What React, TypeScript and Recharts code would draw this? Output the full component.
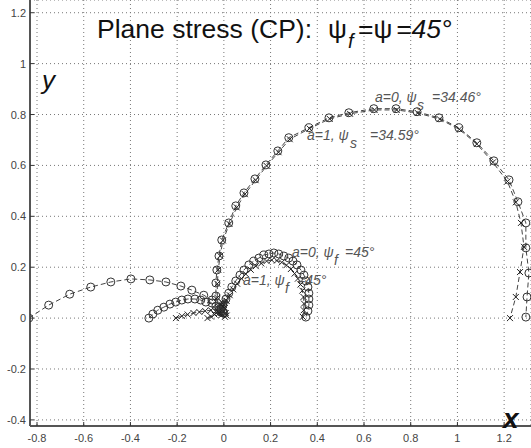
import { ScatterChart, Scatter, XAxis, YAxis, CartesianGrid } from "recharts"

const xTicks = [-0.8, -0.6, -0.4, -0.2, 0, 0.2, 0.4, 0.6, 0.8, 1, 1.2]
const yTicks = [-0.4, -0.2, 0, 0.2, 0.4, 0.6, 0.8, 1, 1.2]

// big arc, a=0 (circles), psi_s = 34.46
const bigArcA0: [number, number][] = [
  [-0.021, 0.031], [-0.034, 0.087], [-0.034, 0.138], [-0.03, 0.189], [-0.021, 0.244],
  [-0.009, 0.307], [0.021, 0.374], [0.051, 0.441], [0.086, 0.492], [0.133, 0.547],
  [0.18, 0.602], [0.231, 0.657], [0.278, 0.709], [0.364, 0.748], [0.45, 0.787],
  [0.535, 0.807], [0.642, 0.823], [0.737, 0.823], [0.827, 0.811], [0.921, 0.787],
  [1.006, 0.748], [1.083, 0.689], [1.156, 0.618], [1.221, 0.543], [1.259, 0.457],
  [1.293, 0.374], [1.293, 0.276], [1.306, 0.177], [1.298, 0.083], [1.293, 0.004],
]

// big arc, a=1 (crosses), psi_s = 34.59
const bigArcA1: [number, number][] = [
  [-0.02, 0.02], [-0.028, 0.08], [-0.028, 0.135], [-0.024, 0.19], [-0.016, 0.245],
  [-0.004, 0.305], [0.024, 0.37], [0.055, 0.435], [0.09, 0.487], [0.136, 0.542],
  [0.183, 0.598], [0.234, 0.652], [0.282, 0.703], [0.367, 0.745], [0.453, 0.783],
  [0.54, 0.803], [0.645, 0.818], [0.74, 0.818], [0.83, 0.806], [0.924, 0.782],
  [1.008, 0.742], [1.083, 0.684], [1.152, 0.612], [1.214, 0.537], [1.25, 0.455],
  [1.272, 0.374], [1.285, 0.28], [1.268, 0.181], [1.25, 0.083], [1.225, 0.0],
]

// small arc, a=0 (circles), psi_f = 45
const smallArcA0: [number, number][] = [
  [-0.013, 0.024], [-0.004, 0.051], [0.009, 0.075], [0.021, 0.098], [0.034, 0.122],
  [0.051, 0.146], [0.069, 0.169], [0.086, 0.189], [0.107, 0.209], [0.128, 0.224],
  [0.15, 0.236], [0.171, 0.248], [0.193, 0.252], [0.214, 0.256], [0.235, 0.252],
  [0.257, 0.244], [0.278, 0.236], [0.296, 0.224], [0.313, 0.209], [0.33, 0.189],
  [0.343, 0.169], [0.351, 0.146], [0.36, 0.122], [0.364, 0.098], [0.364, 0.075],
  [0.364, 0.051], [0.36, 0.028], [0.351, 0.004],
]

// small arc, a=1 (crosses), psi_f = 45
const smallArcA1: [number, number][] = [
  [-0.01, 0.02], [0.0, 0.045], [0.012, 0.068], [0.025, 0.09], [0.04, 0.113],
  [0.057, 0.135], [0.075, 0.155], [0.094, 0.173], [0.115, 0.19], [0.137, 0.204],
  [0.16, 0.215], [0.183, 0.224], [0.205, 0.228], [0.227, 0.226], [0.248, 0.219],
  [0.268, 0.208], [0.287, 0.193], [0.303, 0.175], [0.317, 0.155], [0.328, 0.132],
  [0.336, 0.108], [0.341, 0.083], [0.343, 0.057], [0.342, 0.031], [0.338, 0.005],
]

// left branches
const leftLong: [number, number][] = [
  [-0.835, 0], [-0.75, 0.051], [-0.66, 0.094], [-0.57, 0.122], [-0.484, 0.142],
  [-0.398, 0.154], [-0.317, 0.15], [-0.248, 0.142], [-0.184, 0.126], [-0.137, 0.11],
  [-0.086, 0.09], [-0.051, 0.071], [-0.021, 0.043], [-0.004, 0.02],
]

const leftShort: [number, number][] = [
  [-0.321, 0], [-0.304, 0.016], [-0.283, 0.031], [-0.257, 0.043], [-0.231, 0.055],
  [-0.206, 0.063], [-0.18, 0.071], [-0.154, 0.075], [-0.124, 0.075], [-0.099, 0.071],
  [-0.077, 0.063], [-0.051, 0.059], [-0.034, 0.047], [-0.013, 0.035], [0.0, 0.02],
]

const leftCross: [number, number][] = [
  [-0.205, 0], [-0.18, 0.008], [-0.155, 0.014], [-0.13, 0.02], [-0.105, 0.024],
  [-0.08, 0.028], [-0.055, 0.031], [-0.03, 0.031], [-0.01, 0.028],
]

// cluster of crosses near the origin
const originCross: [number, number][] = [
  [-0.07, 0], [-0.055, 0.006], [-0.04, 0.014], [-0.03, 0.022], [-0.02, 0.03],
  [-0.012, 0.038], [-0.006, 0.046], [0.0, 0.052], [0.004, 0.06], [0.006, 0.068],
  [0.002, 0.04], [-0.004, 0.03], [0.008, 0.02], [0.012, 0.01], [0.005, 0.005],
  [-0.01, 0.012], [-0.016, 0.05], [-0.008, 0.062],
]

const toPts = (a: [number, number][]) => a.map(([x, y]) => ({ x, y }))

const fmt = (v: number) => String(Number(v.toFixed(1)))

const Ring = (p: any) => (
  <circle cx={p.cx} cy={p.cy} r={4} fill="none" stroke="#333" strokeWidth={1} />
)

const Cross = (p: any) => (
  <path
    d={`M${p.cx - 3},${p.cy - 3}L${p.cx + 3},${p.cy + 3}M${p.cx - 3},${p.cy + 3}L${p.cx + 3},${p.cy - 3}`}
    stroke="#222"
    strokeWidth={1}
  />
)

const XTick = ({ x, y, payload }: any) => (
  <g>
    <line x1={x} x2={x} y1={y} y2={y - 4} stroke="#333" />
    <text x={x} y={y + 16} textAnchor="middle" fontSize={11} fill="#444">
      {fmt(payload.value)}
    </text>
  </g>
)

const YTick = ({ x, y, payload }: any) => (
  <g>
    <line x1={x} x2={x + 4} y1={y} y2={y} stroke="#333" />
    <text x={x - 4} y={y + 4} textAnchor="end" fontSize={11} fill="#444">
      {fmt(payload.value)}
    </text>
  </g>
)

const dashed = { stroke: "#444", strokeWidth: 1, strokeDasharray: "5 3" }

export default function App() {
  return (
    <div style={{ position: "absolute", left: 0, top: 0, fontFamily: "'Liberation Sans', Arial, sans-serif" }}>
      <ScatterChart width={531} height={448} margin={{ top: 0, right: 0, bottom: 0, left: 0 }}>
        <CartesianGrid stroke="#777" strokeDasharray="1 3" />
        <XAxis
          type="number"
          dataKey="x"
          domain={[-0.83, 1.315]}
          ticks={xTicks}
          interval={0}
          allowDataOverflow
          height={22}
          axisLine={{ stroke: "#555", strokeWidth: 2 }}
          tickLine={false}
          tickSize={0}
          tickMargin={0}
          tick={<XTick />}
        />
        <YAxis
          type="number"
          dataKey="y"
          domain={[-0.424, 1.25]}
          ticks={yTicks}
          interval={0}
          allowDataOverflow
          width={30}
          axisLine={{ stroke: "#555", strokeWidth: 2 }}
          tickLine={false}
          tickSize={0}
          tickMargin={0}
          tick={<YTick />}
        />
        <Scatter data={toPts(leftLong)} shape={Ring} line={dashed} isAnimationActive={false} />
        <Scatter data={toPts(leftShort)} shape={Ring} line={dashed} isAnimationActive={false} />
        <Scatter data={toPts(leftCross)} shape={Cross} line={dashed} isAnimationActive={false} />
        <Scatter data={toPts(originCross)} shape={Cross} line={dashed} isAnimationActive={false} />
        <Scatter data={toPts(smallArcA0)} shape={Ring} line={dashed} isAnimationActive={false} />
        <Scatter data={toPts(smallArcA1)} shape={Cross} line={dashed} isAnimationActive={false} />
        <Scatter data={toPts(bigArcA0)} shape={Ring} line={dashed} isAnimationActive={false} />
        <Scatter data={toPts(bigArcA1)} shape={Cross} line={dashed} isAnimationActive={false} />
      </ScatterChart>
      <svg
        width={531}
        height={448}
        style={{ position: "absolute", left: 0, top: 0, pointerEvents: "none" }}
        fontFamily="'Liberation Sans', Arial, sans-serif"
      >
        <text y={38} fontSize={26.5} fill="#111">
          <tspan x={97}>Plane stress (CP):</tspan>
          <tspan x={328}>ψ</tspan>
          <tspan x={348} y={48} fontSize={20} fontStyle="italic">f</tspan>
          <tspan x={358} y={38}>=ψ</tspan>
          <tspan x={396} fontStyle="italic">=45°</tspan>
        </text>
        <text x={42} y={89} fontSize={26} fontStyle="italic" fill="#111">y</text>
        <text x={503} y={428} fontSize={28} fontStyle="italic" fontWeight="bold" fill="#111">x</text>
        <g fontSize={14} fontStyle="italic" fill="#555">
          <text y={102}>
            <tspan x={375}>a=0, ψ</tspan>
            <tspan x={417} y={110}>s</tspan>
            <tspan x={432} y={102}>=34.46°</tspan>
          </text>
          <text y={140}>
            <tspan x={307}>a=1, ψ</tspan>
            <tspan x={350} y={148}>s</tspan>
            <tspan x={370} y={140}>=34.59°</tspan>
          </text>
          <text y={257}>
            <tspan x={292}>a=0, ψ</tspan>
            <tspan x={334} y={265}>f</tspan>
            <tspan x={345} y={257}>=45°</tspan>
          </text>
          <text y={285}>
            <tspan x={243}>a=1, ψ</tspan>
            <tspan x={285} y={293}>f</tspan>
            <tspan x={297} y={285}>=45°</tspan>
          </text>
        </g>
      </svg>
    </div>
  )
}
